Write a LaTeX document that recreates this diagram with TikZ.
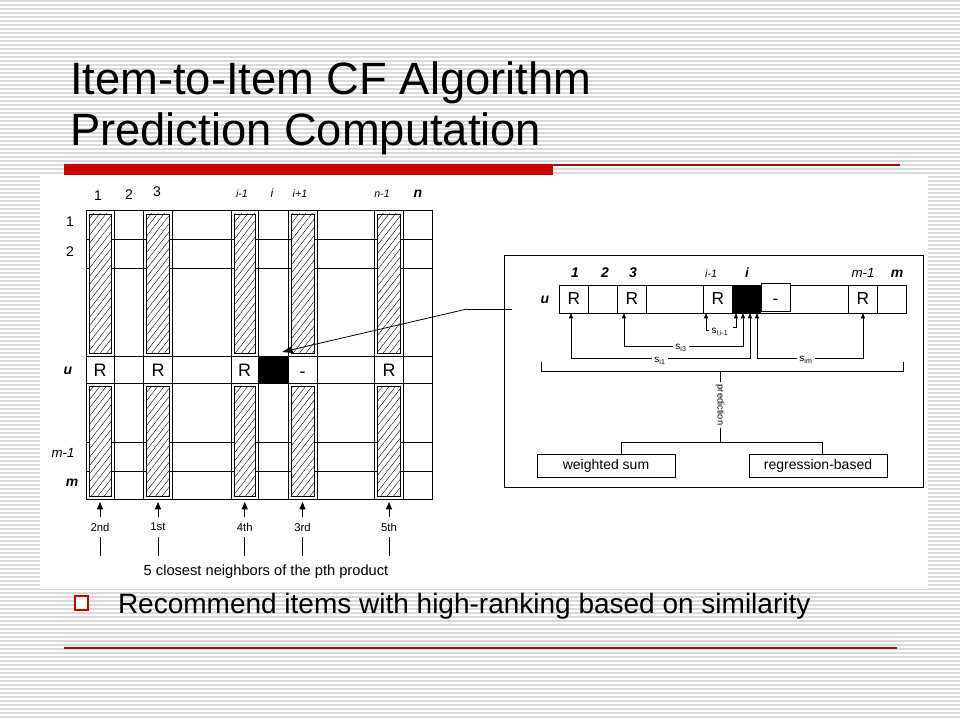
\documentclass[tikz,border=0pt]{standalone}
\usepackage{fontspec}
\setmainfont{Liberation Sans}
\usetikzlibrary{arrows.meta,patterns.meta}
\definecolor{stripe}{HTML}{D9D9D9}
\definecolor{barred}{HTML}{CC0000}
\definecolor{linered}{HTML}{A01010}
\newcommand{\myfs}[1]{\fontsize{#1}{#1}\selectfont}
\begin{document}
\begin{tikzpicture}[x=0.75pt,y=-0.75pt,
 lbl/.style={inner sep=0pt,outer sep=0pt},
 gl/.style={line width=0.75pt},
 hatchbox/.style={draw=black,line width=0.6pt,fill=white,postaction={pattern={Lines[angle=52,distance=3.8pt,line width=0.3pt]}}},
 up/.style={-{Triangle[width=4.5pt,length=5.5pt]},line width=0.6pt},
 sm/.style={line width=0.55pt},
 both/.style={{Triangle[width=3pt,length=4pt]}-{Triangle[width=3pt,length=4pt]},line width=0.55pt},
 one/.style={-{Triangle[width=3pt,length=4pt]},line width=0.55pt},
 slab/.style={fill=white,inner xsep=2pt,inner ysep=0.5pt,font=\myfs{7.5}},
 hd/.style={lbl,anchor=base,font=\myfs{10.5}},
 hdi/.style={lbl,anchor=base,font=\myfs{8}\itshape},
 hdbi/.style={lbl,anchor=base,font=\myfs{10.5}\bfseries\itshape},
 cell/.style={lbl,font=\myfs{13.5}},
]
\useasboundingbox (0,0) rectangle (960,720);
\fill[white] (0,0) rectangle (960,720);
\foreach \k in {0,...,179}{\draw[stripe,line width=0.9pt] (0,4*\k+1) -- (960,4*\k+1);}
\fill[white] (40,174) rectangle (928,589);

% ---------- title ----------
\node[lbl,anchor=base west,font=\myfs{34}] (title1) at (70,95) {Item-to-Item CF Algorithm};
\node[lbl,anchor=base west,font=\myfs{34}] (title2) at (70,146) {Prediction Computation};
\fill[barred] (64,164) rectangle (553,175);
\draw[linered,line width=1.1pt] (553,165) -- (900,165);

% ---------- bullet ----------
\draw[barred,line width=2.2pt,fill=white] (75,596) rectangle (88,610);
\node[lbl,anchor=base west,font=\myfs{21}] (bullet) at (118,613) {Recommend items with high-ranking based on similarity};
\draw[linered,line width=0.9pt] (64,648) -- (897,648);

% ---------- left grid ----------
\draw[gl] (86,211) rectangle (432,499.5);
\foreach \x in {114.5,143.5,172.5,231,258.5,288,317,374.5,403.5}{\draw[gl] (\x,211) -- (\x,499.5);}
\foreach \y in {240,269,356,383.5,442,471}{\draw[gl] (86,\y) -- (432,\y);}
\foreach \a/\b in {86/114.5,143.5/172.5,231/258.5,288/317,374.5/403.5}{
  \draw[hatchbox] (\a+3.3,214) rectangle (\b-2.8,353.5);
  \draw[hatchbox] (\a+3.3,386) rectangle (\b-2.8,496.5);
}
\fill[black] (258.5,356) rectangle (288,383.5);
\node[cell] (gR1) at (100.2,370) {R};
\node[cell] (gR3) at (158,370) {R};
\node[cell] (gRi) at (244.7,370) {R};
\node[cell] (gdash) at (302.5,375) {-};
\node[cell] (gRn) at (389,370) {R};

% column headings
\node[hd] (gh1) at (98,201) {1};
\node[hd] (gh2) at (129,200) {2};
\node[hd] (gh3) at (157,197) {3};
\node[hdi] (ghim) at (242,198) {i-1};
\node[hdbi,font=\myfs{9}\itshape] (ghi) at (272,198) {i};
\node[hdi] (ghip) at (300,198) {i+1};
\node[hdi] (ghnm) at (382,198) {n-1};
\node[hdbi] (ghn) at (418,198) {n};
% row headings
\node[hd] (gr1) at (70,227) {1};
\node[hd] (gr2) at (70,257) {2};
\node[hdbi] (gru) at (68,374) {u};
\node[lbl,anchor=base,font=\myfs{10}\itshape] (grmm) at (63,457) {m-1};
\node[hdbi] (grm) at (72,486) {m};

% neighbour arrows
\foreach \x/\t in {100/2nd,158/1st,244.7/4th,302.5/3rd,389/5th}{
  \coordinate (colb\t) at (\x,502);
  \coordinate (ab\t) at (\x,517);
  \node[lbl,font=\myfs{8.5}] (n\t) at (\x,527) {\t};
  \draw[up] (ab\t) -- (colb\t);
  \coordinate (tt\t) at (\x,537);
  \coordinate (tb\t) at (\x,556);
  \draw[line width=0.6pt] (tt\t) -- (tb\t);
}
\node[lbl,font=\myfs{11}] (neigh) at (266,572) {5 closest neighbors of the pth product};

% connector from inset to grid
\coordinate (bend) at (467,309);
\coordinate (inin) at (512,309);
\coordinate (target) at (282,352);
\draw[line width=0.6pt] (inin) -- (bend);
\draw[line width=0.6pt,-{Triangle[width=5pt,length=8pt]}] (bend) -- (target);

% ---------- inset ----------
\draw[gl] (504,256) rectangle (923,487);
\draw[sm] (559.3,285) rectangle (906,313);
\foreach \x in {588.7,617.7,646.7,703.3,732.3,848.3,877.3}{\draw[sm] (\x,285) -- (\x,313);}
\fill[black] (732.3,285) rectangle (761.3,313);
\draw[gl,fill=white] (761.3,283.3) rectangle (790,311.7);
\node[cell,font=\myfs{13}] (iR1) at (574,299) {R};
\node[cell,font=\myfs{13}] (iR3) at (632,299) {R};
\node[cell,font=\myfs{13}] (iRi) at (717.8,299) {R};
\node[cell,font=\myfs{13}] (idash) at (775.6,302) {-};
\node[cell,font=\myfs{13}] (iRm) at (862.8,299) {R};
\node[hdbi] (ih1) at (575,278) {1};
\node[hdbi] (ih2) at (605,278) {2};
\node[hdbi] (ih3) at (633,278) {3};
\node[hdi] (ihim) at (711,278) {i-1};
\node[hdbi,font=\myfs{10}\bfseries\itshape] (ihi) at (747,278) {i};
\node[lbl,anchor=base,font=\myfs{10}\itshape] (ihmm) at (863,278) {m-1};
\node[hdbi] (ihm) at (897,278) {m};
\node[hdbi] (iu) at (545,303) {u};

% similarity arrows
\coordinate (b1) at (571,313);   \coordinate (b1d) at (571,358);
\coordinate (e1) at (750,313);   \coordinate (e1d) at (750,358);
\draw[both] (b1) -- (b1d) -- (e1d) -- (e1);
\node[slab] (s1) at (660,361) {s\textsubscript{i1}};
\coordinate (b3) at (624,313);   \coordinate (b3d) at (624,346);
\coordinate (e3) at (743,313);   \coordinate (e3d) at (743,346);
\draw[both] (b3) -- (b3d) -- (e3d) -- (e3);
\node[slab] (s3) at (681,348) {s\textsubscript{i3}};
\coordinate (bm) at (863,313);   \coordinate (bmd) at (863,358);
\coordinate (em) at (757,313);   \coordinate (emd) at (757,358);
\draw[both] (bm) -- (bmd) -- (emd) -- (em);
\node[slab] (sm) at (806,360) {s\textsubscript{im}};
\coordinate (bi) at (706,313);   \coordinate (bid) at (706,330); \coordinate (bif) at (709,330);
\coordinate (ei) at (736,313);   \coordinate (eid) at (736,327); \coordinate (eif) at (733,327);
\draw[one] (bif) -- (bid) -- (bi);
\draw[one] (eif) -- (eid) -- (ei);
\node[lbl,font=\myfs{7.5}] (si) at (720,332) {s\textsubscript{i,i-1}};

% prediction bracket
\coordinate (brl) at (541,362); \coordinate (brr) at (903,362);
\coordinate (brlb) at (541,371); \coordinate (brrb) at (903,371);
\draw[sm] (brl) -- (brlb) -- (brrb) -- (brr);
\coordinate (pt) at (720,371); \coordinate (pb) at (720,442);
\draw[sm] (pt) -- (pb);
\node[lbl,fill=white,rotate=-90,font=\myfs{7},inner xsep=2pt] (pred) at (720,405) {prediction};
\node[draw,line width=0.6pt,minimum width=103.5pt,minimum height=17.2pt,inner sep=0pt,font=\myfs{10.5}] (ws) at (606,465.5) {weighted sum};
\node[draw,line width=0.6pt,minimum width=103.5pt,minimum height=17.2pt,inner sep=0pt,font=\myfs{10.5}] (rb) at (818,465.5) {regression-based};
\coordinate (fl) at (621,442); \coordinate (fr) at (822,442);
\draw[sm] (ws.north -| fl) -- (fl) -- (fr) -- (rb.north -| fr);
\end{tikzpicture}
\end{document}
